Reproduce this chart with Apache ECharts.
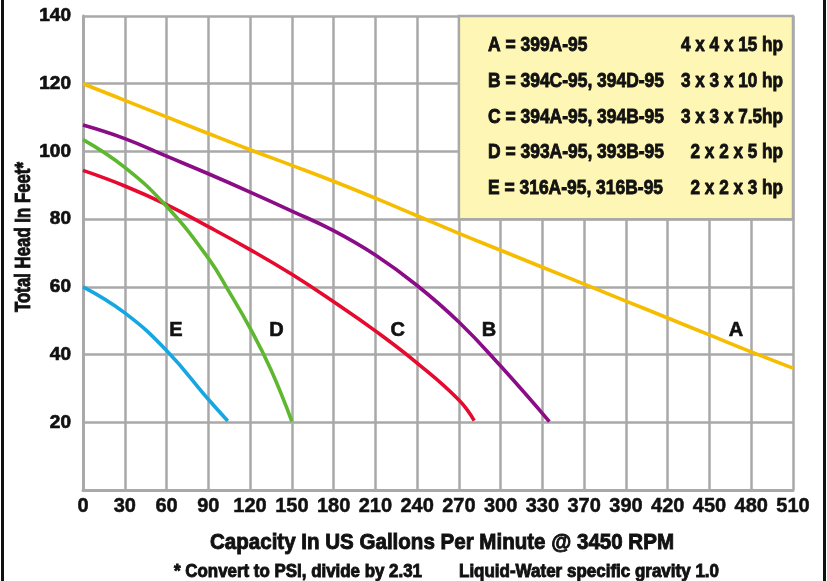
<!DOCTYPE html>
<html>
<head>
<meta charset="utf-8">
<script src="https://cdn.jsdelivr.net/npm/echarts@6/dist/echarts.min.js"></script>
<style>
html,body{margin:0;padding:0;background:#fff;}
#chart{width:827px;height:581px;}
</style>
</head>
<body>
<div id="chart"></div>
<script>
// ---- data ----
const xTickLabels = ['0','30','60','90','120','150','180','210','240','270','300','330','370','390','420','450','480','510'];
const curveA = [[0,120],[30,115.1],[60,110.2],[90,105.3],[120,100.5],[150,95.9],[180,91.2],[210,86.2],[240,81],[270,75.8],[300,70.8],[330,65.8],[360,60.8],[390,55.8],[420,50.8],[450,45.8],[480,40.8],[510,36]];
const curveB = [[0,107.8],[30,103.8],[60,98.6],[90,93.4],[120,88],[150,82.4],[180,76.6],[210,69.4],[240,60.4],[270,49.6],[300,36.6],[335,20.2]];
const curveC = [[0,94.4],[30,89.8],[60,84.3],[90,77.8],[120,71],[150,63.7],[180,55.6],[210,47],[240,37.5],[270,26.6],[281,20.5]];
const curveD = [[0,103.5],[30,95.3],[60,83.8],[90,68.5],[105,58.5],[120,47.8],[135,35.5],[150,20.3]];
const curveE = [[0,60],[30,52.3],[60,41.2],[90,26.8],[104,20.4]];
const curveNames = ['A','B','C','D','E'];
const curveLabelX = [469,291.6,226,139,66.7];
const curveLabelY = [47,47,47,47,47];
const legendLeft = ['A = 399A-95','B = 394C-95, 394D-95','C = 394A-95, 394B-95','D = 393A-95, 393B-95','E = 316A-95, 316B-95'];
const legendRight = ['4 x 4 x 15 hp','3 x 3 x 10 hp','3 x 3 x 7.5hp','2 x 2 x 5 hp','2 x 2 x 3 hp'];
const legendBoxX = [270,510];
const legendBoxY = [80,140];
const xTitle = 'Capacity In US Gallons Per Minute @ 3450 RPM';
const yTitle = 'Total Head In Feet*';
const noteLeft = '* Convert to PSI, divide by 2.31';
const noteRight = 'Liquid-Water specific gravity 1.0';

// ---- styling ----
const FAM = "'Liberation Sans', Arial, sans-serif";
const GRID = '#a9a9a9';
const INK = '#111111';
const colors = {A:'#F6BD00',B:'#8A0C87',C:'#E50A2E',D:'#5EB82F',E:'#16A6E2'};
const curves = {A:curveA,B:curveB,C:curveC,D:curveD,E:curveE};

// condensed heavy text: measure natural width and squeeze horizontally to a target width
const mctx = document.createElement('canvas').getContext('2d');
function natW(text, size){ mctx.font = 'bold ' + size + 'px ' + FAM; return mctx.measureText(text).width; }
function narrowText(text, size, x, y, targetW, align, extra){
  const s = targetW / natW(text, size);
  return Object.assign({type:'text', x:x, y:y, z:10, scaleX:s, scaleY:1,
    style:{text:text, fill:INK, stroke:INK, lineWidth:0.9, fontFamily:FAM, fontWeight:'bold', fontSize:size, textAlign:align, textVerticalAlign:'middle'}}, extra||{});
}

const chart = echarts.init(document.getElementById('chart'), null, {renderer:'canvas'});

const series = curveNames.map((n,i)=>({
  type:'line', name:n, data:curves[n], smooth:0.45, showSymbol:false,
  lineStyle:{color:colors[n], width:3.6}, z:3, silent:true
}));
series[0].markArea = {
  silent:true,
  itemStyle:{color:'#FDF6B4', borderColor:GRID, borderWidth:2.5},
  data:[[{coord:[legendBoxX[0],legendBoxY[1]]},{coord:[legendBoxX[1],legendBoxY[0]]}]]
};
series.push({
  type:'scatter', symbolSize:1, silent:true, z:4,
  itemStyle:{color:'rgba(0,0,0,0)', opacity:1},
  data: curveNames.map((n,i)=>({value:[curveLabelX[i],curveLabelY[i]], name:n})),
  label:{show:true, position:'inside', formatter:p=>p.name, color:INK, opacity:1, fontFamily:FAM, fontWeight:'bold', fontSize:20, textBorderColor:INK, textBorderWidth:0.6}
});

const graphics = [
  {type:'line', shape:{x1:2.5,y1:0,x2:2.5,y2:581}, style:{stroke:'#111', lineWidth:3}},
  {type:'line', shape:{x1:824.5,y1:0,x2:824.5,y2:581}, style:{stroke:'#111', lineWidth:3}},
  narrowText(xTitle, 22, 442, 543, 464, 'center'),
  narrowText(noteLeft, 18, 174, 572, 248, 'left'),
  narrowText(noteRight, 18, 459, 572, 260, 'left'),
  narrowText(yTitle, 22, 24, 237, 150, 'center', {rotation:Math.PI/2})
];
const rowY = [45,81.5,117,152.5,188];
const legScale = 176 / natW(legendLeft[1], 21);
const legRScale = 102 / natW(legendRight[1], 21);
legendLeft.forEach((t,i)=>{
  graphics.push(narrowText(t, 21, 488, rowY[i], natW(t,21)*legScale, 'left'));
  graphics.push(narrowText(legendRight[i], 21, 783, rowY[i], natW(legendRight[i],21)*legRScale, 'right'));
});

chart.setOption({
  animation:false,
  backgroundColor:'#ffffff',
  grid:{left:83, right:34, top:16, bottom:91, containLabel:false},
  xAxis:{
    type:'value', min:0, max:510, interval:30,
    axisLine:{show:true, lineStyle:{color:GRID, width:3}},
    axisTick:{show:false},
    axisLabel:{margin:6, color:INK, fontFamily:FAM, fontWeight:'bold', fontSize:20, textBorderColor:INK, textBorderWidth:0.5,
      formatter:v=>xTickLabels[Math.round(v/30)]},
    splitLine:{show:true, lineStyle:{color:GRID, width:2.5}}
  },
  yAxis:{
    type:'value', min:0, max:140, interval:20,
    axisLine:{show:true, lineStyle:{color:GRID, width:3}},
    axisTick:{show:false},
    axisLabel:{margin:12, color:INK, fontFamily:FAM, fontWeight:'bold', fontSize:19, textBorderColor:INK, textBorderWidth:0.7,
      formatter:v=>v===0?'':String(v)},
    splitLine:{show:true, lineStyle:{color:GRID, width:2.5}}
  },
  series:series,
  graphic:graphics
});
</script>
</body>
</html>
